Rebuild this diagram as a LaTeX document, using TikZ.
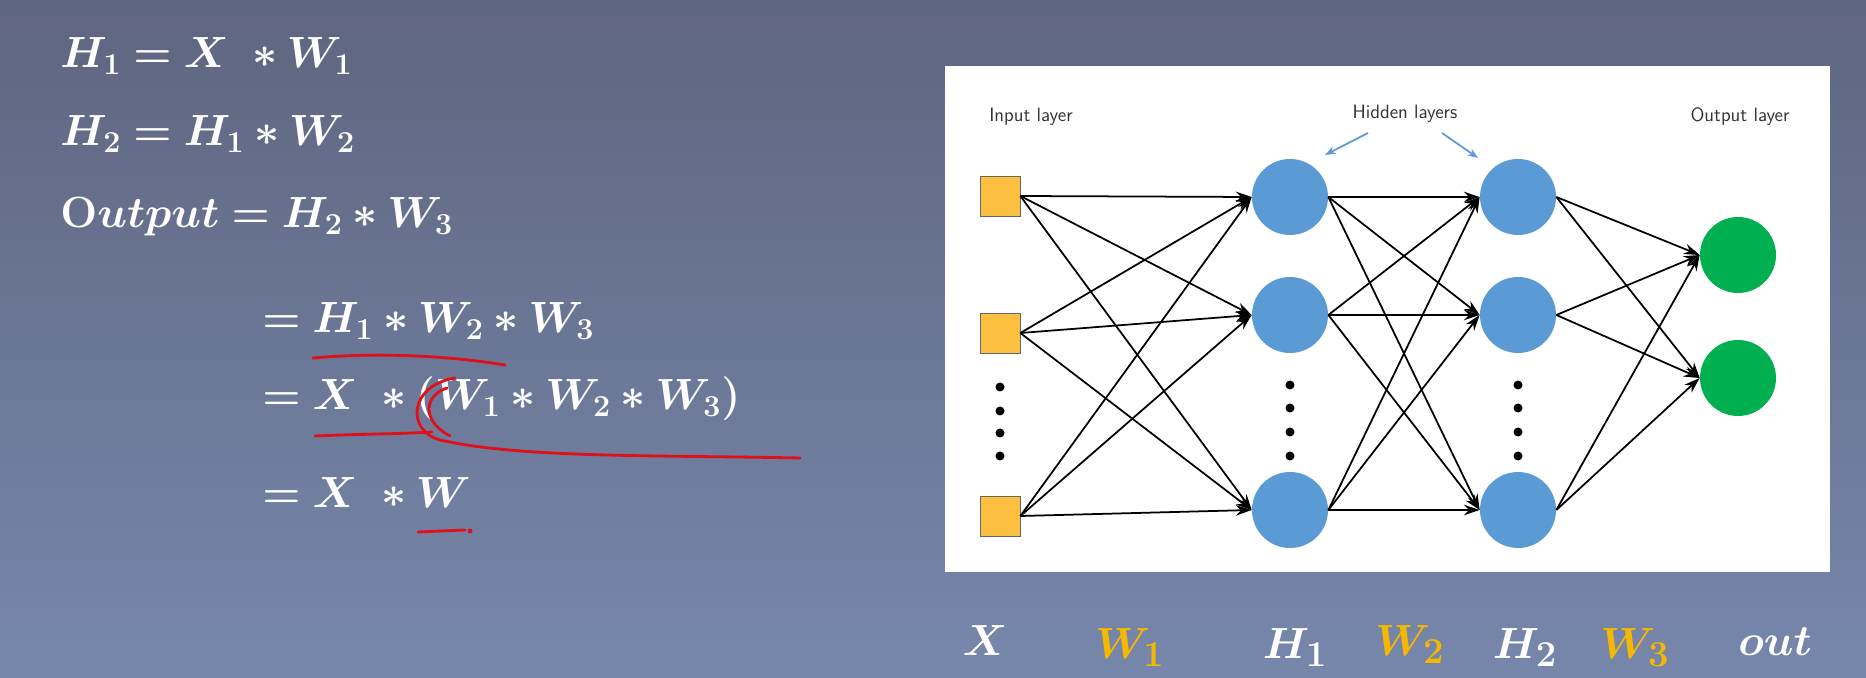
\documentclass[tikz,border=0pt]{standalone}
\usepackage{amsmath,bm}
\usetikzlibrary{arrows.meta}
\definecolor{bgtop}{HTML}{5E6680}
\definecolor{bgbot}{HTML}{7787AB}
\definecolor{sq}{HTML}{FDBF40}
\definecolor{hid}{HTML}{5B9BD5}
\definecolor{outc}{HTML}{00B050}
\definecolor{gold}{HTML}{F5B800}
\definecolor{pen}{HTML}{E0101A}
\begin{document}
\begin{tikzpicture}[x=0.02cm,y=-0.02cm,
  eq/.style={anchor=base west,text=white,font=\fontsize{26}{30}\selectfont,inner sep=0},
  sqn/.style={draw=black!60,fill=sq,minimum size=40*0.02cm,inner sep=0},
  hn/.style={circle,fill=hid,minimum size=76*0.02cm,inner sep=0},
  on/.style={circle,fill=outc,minimum size=76*0.02cm,inner sep=0},
  dot/.style={circle,fill=black,minimum width=9*0.02cm,minimum height=7*0.02cm,inner sep=0},
  ed/.style={-{Stealth[length=9pt,width=6pt]},line width=1pt},
  lbl/.style={font=\sffamily\fontsize{11}{13}\selectfont,text=black!80},
  bl/.style={font=\fontsize{28}{32}\selectfont,inner sep=0,anchor=base},
  red/.style={draw=pen,line width=1.6pt,line cap=round}]
\shade[top color=bgtop,bottom color=bgbot] (0,0) rectangle (1866,678);
\useasboundingbox (0,0) rectangle (1866,678);
% equations
\node[eq] (e1) at (60,68) {$\bm{H_1 = X\ * W_1}$};
\node[eq] (e2) at (60,146) {$\bm{H_2 = H_1 * W_2}$};
\node[eq] (e3) at (60,228) {$\mathbf{O}\bm{utput = H_2 * W_3}$};
\node[eq] (e4) at (262,333) {$\bm{= H_1 * W_2 * W_3}$};
\node[eq] (e5) at (262,410) {$\bm{= X\ * (W_1 * W_2 * W_3)}$};
\node[eq] (e6) at (262,508) {$\bm{= X\ * W}$};
% red annotations
\draw[red] (313,358) .. controls (380,352) and (450,356) .. (505,365);
\draw[red] (315,436) .. controls (360,434) and (400,434) .. (432,432);
\draw[red] (455,378) .. controls (410,385) and (405,430) .. (440,440) .. controls (520,458) and (650,455) .. (800,458);
\draw[red] (447,388) .. controls (425,395) and (420,420) .. (450,436);
\draw[red] (418,532) -- (465,530);
\fill[pen] (470,531) circle (2.5);
% panel
\fill[white] (945,66) rectangle (1830,572);
\node[sqn] (i1) at (1000,196) {};
\node[sqn] (i2) at (1000,333) {};
\node[sqn] (i3) at (1000,516) {};
\node[hn] (a1) at (1290,197) {};
\node[hn] (a2) at (1290,315) {};
\node[hn] (a3) at (1290,510) {};
\node[hn] (b1) at (1518,197) {};
\node[hn] (b2) at (1518,315) {};
\node[hn] (b3) at (1518,510) {};
\node[on] (o1) at (1738,255) {};
\node[on] (o2) at (1738,378) {};
\foreach \y in {387,411,433,456}{\node[dot] at (1000,\y) {};}
\foreach \y in {385,408,432,456}{\node[dot] at (1290,\y) {}; \node[dot] at (1518,\y) {};}
\foreach \s in {i1,i2,i3}{\foreach \t in {a1,a2,a3}{\draw[ed] (\s.east) -- (\t.west);}}
\foreach \s in {a1,a2,a3}{\foreach \t in {b1,b2,b3}{\draw[ed] (\s.east) -- (\t.west);}}
\foreach \s in {b1,b2,b3}{\foreach \t in {o1,o2}{\draw[ed] (\s.east) -- (\t.west);}}
\node[lbl] (li) at (1031,117) {Input layer};
\node[lbl] (lh) at (1405,114) {Hidden layers};
\node[lbl] (lo) at (1740,117) {Output layer};
\coordinate (h1) at (1325,155); \coordinate (h2) at (1478,158);
\draw[-{Stealth[length=6pt]},hid,line width=1pt] (1368,133) -- (h1);
\draw[-{Stealth[length=6pt]},hid,line width=1pt] (1442,133) -- (h2);
% bottom labels
\node[bl,text=white] (bx) at (985,655) {$\bm{X}$};
\node[bl,text=gold] (bw1) at (1130,658) {$\bm{W_1}$};
\node[bl,text=white] (bh1) at (1295,658) {$\bm{H_1}$};
\node[bl,text=gold] (bw2) at (1410,655) {$\bm{W_2}$};
\node[bl,text=white] (bh2) at (1525,658) {$\bm{H_2}$};
\node[bl,text=gold] (bw3) at (1635,658) {$\bm{W_3}$};
\node[bl,text=white] (bo) at (1775,655) {$\bm{out}$};
\end{tikzpicture}
\end{document}
